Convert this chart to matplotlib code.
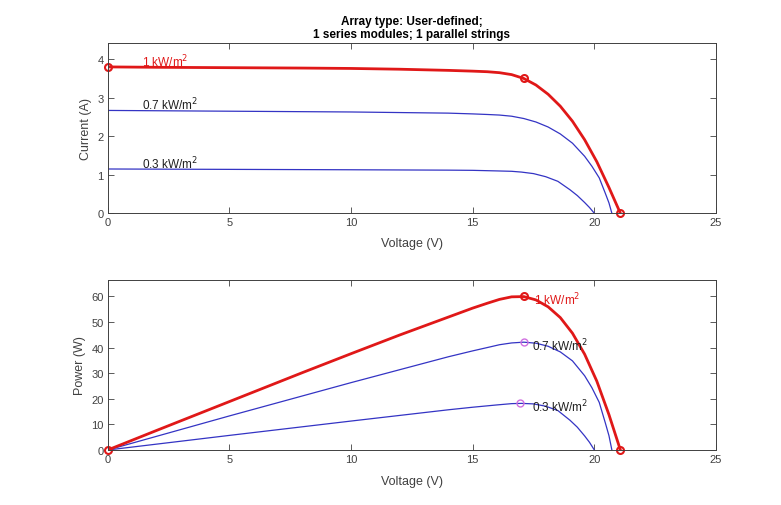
import matplotlib
matplotlib.use('Agg')
import matplotlib.pyplot as plt

plt.rcParams['font.family'] = ['Liberation Sans', 'DejaVu Sans']

# I-V curves
v_1000 = [0, 2, 5, 8, 10, 12, 14, 15, 15.6, 16.1, 16.6, 17.1, 17.6, 18.1, 18.6, 19.1, 19.6, 20.1, 20.6, 21.07]
i_1000 = [3.8, 3.79, 3.78, 3.77, 3.76, 3.74, 3.71, 3.69, 3.675, 3.65, 3.6, 3.5, 3.33, 3.09, 2.78, 2.39, 1.91, 1.34, 0.67, 0]
v_700 = [0, 5, 10, 14, 15, 15.6, 16.1, 16.6, 17.1, 17.6, 18.1, 18.6, 19.1, 19.6, 19.9, 20.2, 20.45, 20.6, 20.72]
i_700 = [2.67, 2.65, 2.63, 2.6, 2.58, 2.565, 2.55, 2.52, 2.46, 2.37, 2.24, 2.06, 1.82, 1.48, 1.22, 0.92, 0.52, 0.27, 0]
v_300 = [0, 5, 10, 14, 15, 16, 16.6, 17.0, 17.5, 18.0, 18.5, 19.0, 19.3, 19.6, 19.8, 20.0]
i_300 = [1.15, 1.14, 1.13, 1.12, 1.115, 1.1, 1.09, 1.07, 1.03, 0.95, 0.83, 0.61, 0.46, 0.28, 0.15, 0]

# P-V curves
pv_1000 = [0, 2, 5, 8, 10, 12, 14, 15, 15.6, 16.1, 16.6, 17.1, 17.6, 18.1, 18.6, 19.1, 19.6, 20.1, 20.6, 21.07]
p_1000 = [0, 7.6, 18.9, 30.2, 37.6, 44.9, 51.9, 55.4, 57.3, 58.8, 59.8, 59.9, 58.6, 55.9, 51.7, 45.6, 37.4, 26.9, 13.8, 0]
pv_700 = [0, 5, 10, 14, 15, 15.6, 16.1, 16.6, 17.1, 17.6, 18.1, 18.6, 19.1, 19.6, 19.9, 20.2, 20.45, 20.6, 20.72]
p_700 = [0, 13.3, 26.3, 36.4, 38.7, 40.0, 41.1, 41.8, 42.1, 41.7, 40.5, 38.3, 34.8, 29.0, 24.3, 18.6, 10.6, 5.6, 0]
pv_300 = [0, 5, 10, 14, 15, 16, 16.6, 17.0, 17.5, 18.0, 18.5, 19.0, 19.3, 19.6, 19.8, 20.0]
p_300 = [0, 5.7, 11.3, 15.7, 16.7, 17.6, 18.1, 18.2, 18.0, 17.1, 15.4, 11.6, 8.9, 5.5, 3.0, 0]

# key points (Isc, MPP, Voc)
iv_marks_v = [0, 17.1, 21.07]
iv_marks_i = [3.8, 3.5, 0]
pv_marks_v = [0, 17.1, 21.07]
pv_marks_p = [0, 60, 0]
mpp_v = [17.1, 16.95]
mpp_p = [42.1, 18.2]

labels = ['1 kW/m$^2$', '0.7 kW/m$^2$', '0.3 kW/m$^2$']
label_colors = ['#e01818', '#202020', '#202020']

red = '#e01818'
blue = '#3434c4'
grey = '#404040'

fig = plt.figure(figsize=(7.81, 5.06), dpi=100)
ax1 = fig.add_axes([0.1379, 0.5765, 0.7789, 0.3365])
ax2 = fig.add_axes([0.1379, 0.1087, 0.7789, 0.3366])

# top: current vs voltage
ax1.plot(v_700, i_700, color=blue, lw=0.9)
ax1.plot(v_300, i_300, color=blue, lw=0.9)
ax1.plot(v_1000, i_1000, color=red, lw=2)
ax1.plot(iv_marks_v, iv_marks_i, 'o', color=red, mfc='none', ms=5, mew=1.5, clip_on=False)
for y, lab, c in zip([i_1000[0], i_700[0], i_300[0]], labels, label_colors):
    ax1.text(1.4, y + 0.02, lab, color=c, fontsize=8.5, va='baseline', ha='left')
ax1.set_xlim(0, 25)
ax1.set_ylim(0, 4.42)
ax1.set_yticks([0, 1, 2, 3, 4])
ax1.set_xlabel('Voltage (V)', fontsize=9, color=grey, labelpad=7)
ax1.set_ylabel('Current (A)', fontsize=9, color=grey, labelpad=4)
ax1.set_title('Array type: User-defined;\n1 series modules; 1 parallel strings',
              fontsize=8.5, fontweight='bold', linespacing=1.2, pad=4)

# bottom: power vs voltage
ax2.plot(pv_700, p_700, color=blue, lw=0.9)
ax2.plot(pv_300, p_300, color=blue, lw=0.9)
ax2.plot(pv_1000, p_1000, color=red, lw=2)
ax2.plot(pv_marks_v, pv_marks_p, 'o', color=red, mfc='none', ms=5, mew=1.5, clip_on=False)
ax2.plot(mpp_v, mpp_p, 'o', color='#d070e0', mfc='none', ms=5, mew=1.0)
for x, y, lab, c in zip([17.5, 17.45, 17.45], [59, 41, 17.3], labels, label_colors):
    ax2.text(x, y, lab, color=c, fontsize=8.5, va='center', ha='left')
ax2.set_xlim(0, 25)
ax2.set_ylim(0, 66.5)
ax2.set_yticks([0, 10, 20, 30, 40, 50, 60])
ax2.set_xlabel('Voltage (V)', fontsize=9, color=grey, labelpad=8)
ax2.set_ylabel('Power (W)', fontsize=9, color=grey, labelpad=4)

for ax in (ax1, ax2):
    ax.tick_params(direction='in', top=True, right=True, length=4, width=0.6,
                   labelsize=8, colors=grey, pad=3)
    for s in ax.spines.values():
        s.set_color(grey)
        s.set_linewidth(0.7)

plt.savefig('out.png', dpi=100)
plt.close()
